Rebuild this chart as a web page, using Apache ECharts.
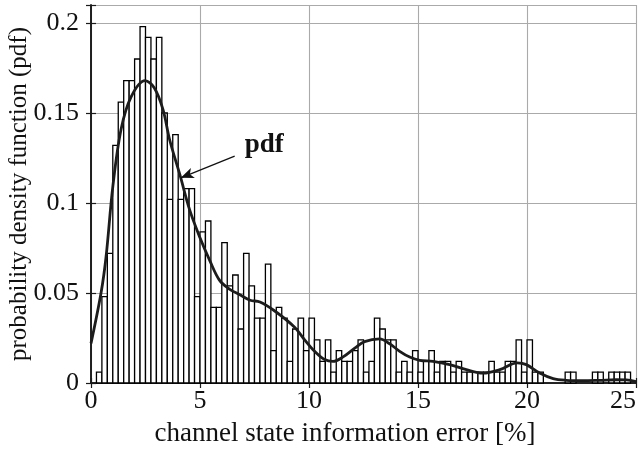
<!DOCTYPE html>
<html>
<head>
<meta charset="utf-8">
<script src="https://cdn.jsdelivr.net/npm/echarts@6/dist/echarts.min.js"></script>
<style>
html, body { margin: 0; padding: 0; background: #fff; }
#chart { width: 639px; height: 454px; }
</style>
</head>
<body>
<div id="chart"></div>
<script>
// histogram: bins of 0.25 % starting at 0
var binWidth = 0.25
var binValues = [
  0, 0.006, 0.048, 0.072, 0.132, 0.156, 0.168, 0.168, 0.180, 0.198,
  0.192, 0.180, 0.192, 0.150, 0.102, 0.138, 0.102, 0.108, 0.108, 0.048,
  0.084, 0.090, 0.042, 0.042, 0.078, 0.054, 0.060, 0.030, 0.072, 0.054,
  0.036, 0.036, 0.066, 0.018, 0.042, 0.036, 0.012, 0.030, 0.036, 0.018,
  0.036, 0.024, 0.012, 0.024, 0.006, 0.018, 0.012, 0.012, 0.018, 0.024,
  0.006, 0.012, 0.036, 0.030, 0.024, 0.024, 0.006, 0.012, 0.006, 0.018,
  0.006, 0.012, 0.018, 0.006, 0.012, 0.012, 0.006, 0.012, 0.006, 0.006,
  0.006, 0.006, 0.006, 0.012, 0.006, 0.006, 0.012, 0.012, 0.024, 0.006,
  0.024, 0.006, 0.006, 0, 0, 0, 0, 0.006, 0.006, 0,
  0, 0, 0.006, 0.006, 0, 0.006, 0.006, 0.006, 0.006, 0
]

// estimated pdf curve
var pdfX = [0, 0.46, 0.69, 1.0, 1.38, 1.84, 2.48, 2.9, 3.3, 3.61, 4.07, 4.53, 4.99, 5.45, 5.9, 6.37, 6.83, 7.3, 7.75,
  8.43, 9.34, 9.8, 10.26, 10.72, 11.1, 11.6, 12.1, 12.55, 13.24, 13.7, 14.16, 14.62, 15.08, 15.69, 16.45,
  17.22, 17.98, 18.75, 19.55, 19.97, 20.58, 21.2, 21.8, 22.56, 23.33, 24.1, 24.56, 25]
var pdfY = [0.022, 0.05, 0.07, 0.109, 0.141, 0.159, 0.168, 0.164, 0.152, 0.135, 0.116, 0.096, 0.081, 0.068, 0.057, 0.052, 0.049, 0.046, 0.045,
  0.040, 0.031, 0.024, 0.0176, 0.013, 0.012, 0.0148, 0.0194, 0.023, 0.0245, 0.0218, 0.0176, 0.0144, 0.0126, 0.012, 0.0102,
  0.0074, 0.0055, 0.0074, 0.0112, 0.0102, 0.0055, 0.0024, 0.0015, 0.0013, 0.0015, 0.0018, 0.0017, 0.0008]

var xTicks = { min: 0, max: 25, interval: 5 }
var yTicks = { min: 0, max: 0.21, interval: 0.05 }

// annotation
var arrowFrom = [6.59, 0.126]
var arrowTo = [4.12, 0.114]
var labelAt = [7.95, 0.132]

var serif = 'Liberation Serif'

var chart = echarts.init(document.getElementById('chart'))

var histData = binValues.map(function (v, i) {
  return [i * binWidth, (i + 1) * binWidth, v]
})
var pdfData = pdfX.map(function (x, i) { return [x, pdfY[i]] })

function axisBase(extent) {
  return {
    type: 'value',
    min: extent.min,
    max: extent.max,
    interval: extent.interval,
    axisLine: { show: true, lineStyle: { color: '#1a1a1a', width: 1.6 } },
    axisTick: { show: true, inside: true, length: 5, lineStyle: { color: '#1a1a1a', width: 1.2 } },
    splitLine: { show: false }
  }
}

var xMain = axisBase(xTicks)
xMain.position = 'bottom'
xMain.axisLabel = { color: '#111', fontFamily: serif, fontSize: 26, margin: 5, alignMaxLabel: 'right' }
xMain.splitLine = { show: true, lineStyle: { color: '#aaaaaa', width: 1.1 } }

var xTop = axisBase(xTicks)
xTop.position = 'top'
xTop.axisLabel = { show: false }

var yMain = axisBase(yTicks)
yMain.position = 'left'
yMain.axisLabel = {
  color: '#111', fontFamily: serif, fontSize: 26, margin: 12,
  formatter: function (v) {
    if (Math.abs(v / 0.05 - Math.round(v / 0.05)) > 1e-6) return ''
    return String(+v.toFixed(2))
  }
}
yMain.splitLine = { show: true, lineStyle: { color: '#aaaaaa', width: 1.1 } }

var yRight = axisBase(yTicks)
yRight.position = 'right'
yRight.axisLabel = { show: false }

chart.setOption({
  animation: false,
  grid: { left: 91, right: 3, top: 5, bottom: 71 },
  xAxis: [xMain, xTop],
  yAxis: [yMain, yRight],
  series: [
    {
      type: 'custom',
      xAxisIndex: 0,
      yAxisIndex: 0,
      encode: { x: [0, 1], y: 2 },
      data: histData,
      renderItem: function (params, api) {
        var v = api.value(2)
        if (!v) return null
        var p0 = api.coord([api.value(0), v])
        var p1 = api.coord([api.value(1), 0])
        return {
          type: 'rect',
          shape: { x: p0[0], y: p0[1], width: p1[0] - p0[0], height: p1[1] - p0[1] },
          style: { fill: '#fff', stroke: '#000', lineWidth: 1.3 }
        }
      }
    },
    {
      type: 'line',
      xAxisIndex: 0,
      yAxisIndex: 0,
      data: pdfData,
      smooth: 0.35,
      showSymbol: false,
      lineStyle: { color: '#1c1c1c', width: 2.8 },
      markLine: {
        silent: true,
        symbolSize: [8, 13],
        lineStyle: { color: '#111', width: 1.3, type: 'solid' },
        label: { show: false },
        data: [[
          { coord: arrowFrom, symbol: 'none' },
          { coord: arrowTo, symbol: 'arrow' }
        ]]
      },
      markPoint: {
        silent: true,
        data: [{
          coord: labelAt,
          symbol: 'circle',
          symbolSize: 1,
          itemStyle: { color: 'rgba(0,0,0,0)' },
          label: {
            show: true, position: 'inside', formatter: 'pdf',
            fontFamily: serif, fontWeight: 'bold', fontSize: 27, color: '#111'
          }
        }]
      }
    }
  ],
  graphic: [
    {
      type: 'text',
      x: 345, y: 434,
      style: {
        text: 'channel state information error [%]',
        font: '27px "' + serif + '"',
        fill: '#111',
        align: 'center',
        verticalAlign: 'middle'
      }
    },
    {
      type: 'text',
      x: 19, y: 194,
      rotation: Math.PI / 2,
      style: {
        text: 'probability density function (pdf)',
        font: '25px "' + serif + '"',
        fill: '#111',
        align: 'center',
        verticalAlign: 'middle'
      }
    }
  ]
})
</script>
</body>
</html>
